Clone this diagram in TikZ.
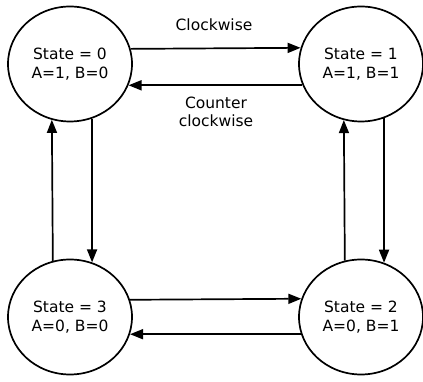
\documentclass[tikz,border=0pt]{standalone}
\usepackage{fontspec}
\setmainfont{DejaVu Sans}
\usetikzlibrary{arrows.meta,shapes.geometric}
\begin{document}
\begin{tikzpicture}[x=1pt,y=1pt,
  statebox/.style={draw, line width=1.7pt, ellipse, minimum width=124pt,
    minimum height=115pt, inner sep=0pt, align=center,
    font=\fontsize{15.5}{19}\selectfont},
  flow/.style={line width=1.7pt, -{Triangle[length=13pt,width=10pt]}},
  tag/.style={align=center, font=\fontsize{15.5}{18}\selectfont}]
\useasboundingbox (0,0) rectangle (423,382);

% the four states
\node[statebox] (s0) at (70,318) {State = 0\\A=1, B=0};
\node[statebox] (s1) at (361,318) {State = 1\\A=1, B=1};
\node[statebox] (s3) at (70,65) {State = 3\\A=0, B=0};
\node[statebox] (s2) at (361,65) {State = 2\\A=0, B=1};

% top pair
\draw[flow] (s0.14.91) -- (s1.165.09);
\draw[flow] (s1.200.83) -- (s0.-20.83);
% bottom pair
\draw[flow] (s3.16.86) -- (s2.163.14);
\draw[flow] (s2.196.86) -- (s3.-16.86);
% left pair
\draw[flow] (s3.107.96) -- (s0.252.04);
\draw[flow] (s0.-68.97) -- (s3.68.97);
% right pair
\draw[flow] (s2.106.94) -- (s1.253.06);
\draw[flow] (s1.-67.94) -- (s2.67.94);

% direction labels
\node[tag] (cw) at (214,357) {Clockwise};
\node[tag] (ccw) at (216,270) {Counter\\clockwise};
\end{tikzpicture}
\end{document}
